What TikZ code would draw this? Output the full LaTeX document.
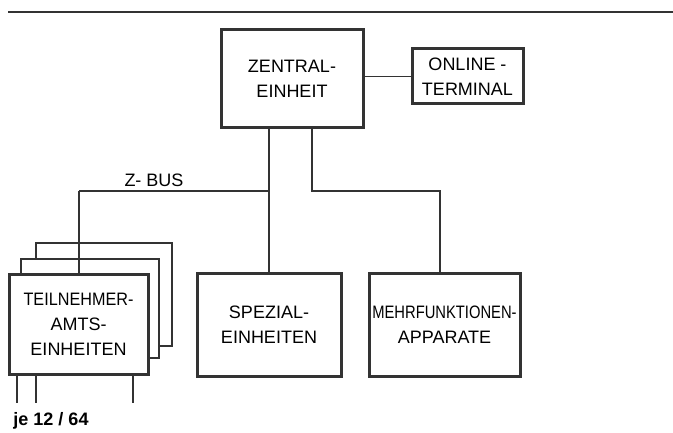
\documentclass[tikz,border=0pt]{standalone}
\usepackage{fontspec}
\setmainfont{Liberation Sans}
\usepackage{graphicx}
\begin{document}
\begin{tikzpicture}[x=1pt,y=-1pt,
  box/.style={draw=black!80,line width=3pt,rectangle,inner sep=0pt,align=center,
    font=\fontsize{18}{25}\selectfont},
  backbox/.style={draw=black!80,line width=2.2pt,fill=white,rectangle,inner sep=0pt},
  wire/.style={draw=black!80,line width=1.8pt},
  lbl/.style={font=\fontsize{18}{25}\selectfont,inner sep=0pt}]
\useasboundingbox (0,0) rectangle (673,433);
\draw[wire] (8,12) -- (673,12);
% Teilnehmer stack
\node[backbox,minimum width=136pt,minimum height=103pt] (teil3) at (104,294.5) {};
\node[backbox,minimum width=138pt,minimum height=99pt] (teil2) at (90,308.5) {};
\node[box,fill=white,minimum width=139pt,minimum height=99pt] (teil) at (78.5,324.5) {\scalebox{0.9}[1]{TEILNEHMER-}\\AMTS-\\EINHEITEN};
% other boxes
\node[box,minimum width=142pt,minimum height=98pt] (zentral) at (292,79) {ZENTRAL-\\EINHEIT};
\node[box,minimum width=111pt,minimum height=55pt] (online) at (467.5,76.5) {ONLINE -\\TERMINAL};
\node[box,minimum width=144pt,minimum height=102pt] (spezial) at (269,325) {SPEZIAL-\\EINHEITEN};
\node[box,minimum width=151pt,minimum height=102pt] (mehr) at (444.5,325) {\scalebox{0.82}[1]{MEHRFUNKTIONEN-}\\APPARATE};
% connectors
\draw[wire] (online.west) -- (online.west -| zentral.east);
\draw[wire] (zentral.south -| spezial.north) -- (spezial.north);
\coordinate (busL) at (79,191);
\draw[wire] (busL) -- (busL -| spezial.north);
\draw[wire] (busL) -- (busL |- teil.north);
\coordinate (zr) at ([xshift=20pt]zentral.south);
\coordinate (mtop) at ([xshift=-4.5pt]mehr.north);
\draw[wire] (zr) |- (mtop |- busL) -- (mtop);
\node[lbl] (zbus) at (154,180) {Z- BUS};
% bottom lines
\coordinate (b1) at (17,403);
\coordinate (b2) at (36,403);
\coordinate (b3) at (133,403);
\draw[wire] (b1 |- teil.south) -- (b1);
\draw[wire] (b2 |- teil.south) -- (b2);
\draw[wire] (b3 |- teil.south) -- (b3);
\node[lbl,font=\fontsize{18}{25}\selectfont\bfseries] (je) at (51,421) {je 12 / 64};
\end{tikzpicture}
\end{document}
